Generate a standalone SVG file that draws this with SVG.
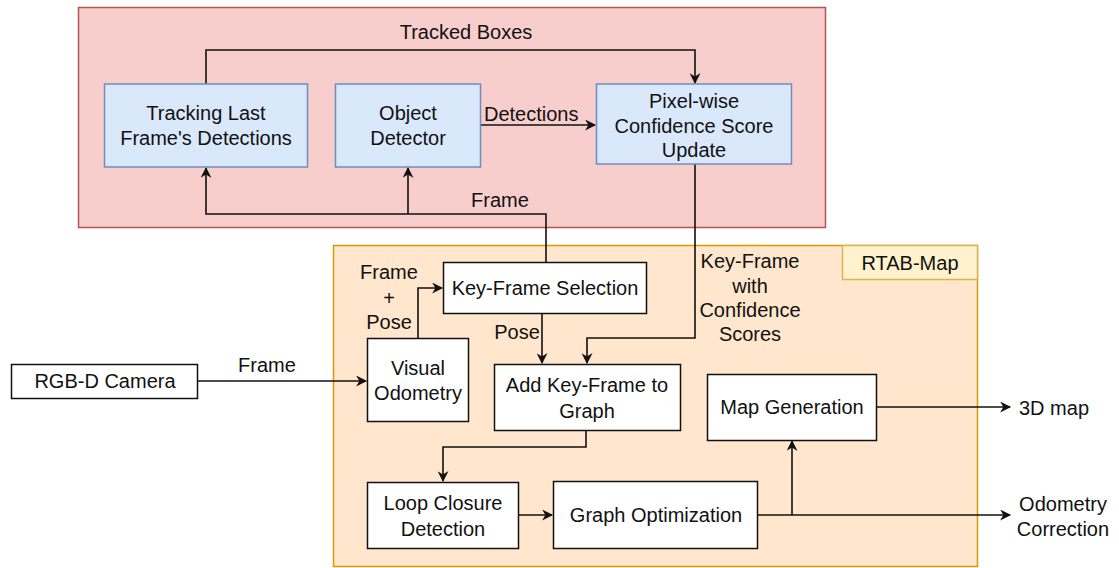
<svg xmlns="http://www.w3.org/2000/svg" width="1119" height="568" viewBox="0 0 1119 568">
  <style>
    text { font-family: "Liberation Sans", Arial, sans-serif; font-size: 20px; fill: #111; }
    .mid { text-anchor: middle; }
    .blue { fill: #dae8fc; stroke: #6c8ebf; stroke-width: 1.5; }
    .plain { fill: #ffffff; stroke: #111; stroke-width: 1.5; }
    .edge { fill: none; stroke: #111; stroke-width: 1.6; }
    .arr { marker-end: url(#head); }
  </style>
  <defs>
    <marker id="head" viewBox="0 0 10 10" refX="9" refY="5" markerWidth="12" markerHeight="11" markerUnits="userSpaceOnUse" orient="auto">
      <path d="M0,0 L10,5 L0,10 L3,5 z" fill="#111"/>
    </marker>
  </defs>

  <!-- containers -->
  <g id="detection-module">
    <rect x="78.5" y="7.5" width="747" height="220" fill="#f8cecc" stroke="#b85450" stroke-width="1.5"/>
  </g>
  <g id="rtabmap-module">
    <rect x="333.5" y="245.5" width="644" height="321" fill="#ffe6cc" stroke="#d79b00" stroke-width="1.5"/>
    <rect x="842.5" y="245.5" width="135" height="34" fill="#fff2cc" stroke="#d6b656" stroke-width="1.5"/>
    <text class="mid" x="910" y="270">RTAB-Map</text>
  </g>

  <!-- connectors -->
  <g id="connectors">
    <path class="edge arr" d="M206,84 V50 H695 V83"/>
    <path class="edge arr" d="M481,125 H595"/>
    <path class="edge arr" d="M546,262 V214 H206 V168"/>
    <path class="edge arr" d="M408,214 V168"/>
    <path class="edge arr" d="M695,164 V338 H587 V363"/>
    <path class="edge arr" d="M542,313 V363"/>
    <path class="edge arr" d="M418,338 V288 H442"/>
    <path class="edge arr" d="M198,381 H366"/>
    <path class="edge arr" d="M586,430 V447 H443 V481"/>
    <path class="edge arr" d="M518,515 H552"/>
    <path class="edge arr" d="M758,515 H1010"/>
    <path class="edge arr" d="M792,515 V441"/>
    <path class="edge arr" d="M877,407 H1010"/>
  </g>

  <!-- edge labels -->
  <g id="labels">
    <text class="mid" x="466" y="39">Tracked Boxes</text>
    <text x="484" y="121">Detections</text>
    <text class="mid" x="500" y="207">Frame</text>
    <text class="mid" x="389" y="279">Frame</text>
    <text class="mid" x="389" y="305">+</text>
    <text class="mid" x="389" y="329">Pose</text>
    <text class="mid" x="517" y="339">Pose</text>
    <text class="mid" x="750" y="268">Key-Frame</text>
    <text class="mid" x="750" y="293">with</text>
    <text class="mid" x="750" y="317">Confidence</text>
    <text class="mid" x="750" y="341">Scores</text>
    <text class="mid" x="267" y="372">Frame</text>
    <text x="1019" y="415">3D map</text>
    <text class="mid" x="1063" y="511">Odometry</text>
    <text class="mid" x="1063" y="536">Correction</text>
  </g>

  <!-- nodes -->
  <g id="tracking">
    <rect class="blue" x="104.5" y="84" width="203" height="83"/>
    <text class="mid" x="206" y="120">Tracking Last</text>
    <text class="mid" x="206" y="145">Frame's Detections</text>
  </g>
  <g id="object-detector">
    <rect class="blue" x="335.5" y="84" width="145" height="83"/>
    <text class="mid" x="408" y="120">Object</text>
    <text class="mid" x="408" y="145">Detector</text>
  </g>
  <g id="confidence-update">
    <rect class="blue" x="596.5" y="84" width="195" height="80"/>
    <text class="mid" x="694" y="108">Pixel-wise</text>
    <text class="mid" x="694" y="133">Confidence Score</text>
    <text class="mid" x="694" y="157">Update</text>
  </g>
  <g id="keyframe-selection">
    <rect class="plain" x="443.5" y="262.5" width="203" height="51"/>
    <text class="mid" x="545" y="295">Key-Frame Selection</text>
  </g>
  <g id="visual-odometry">
    <rect class="plain" x="367.5" y="338.5" width="101" height="83"/>
    <text class="mid" x="418" y="375">Visual</text>
    <text class="mid" x="418" y="400">Odometry</text>
  </g>
  <g id="add-keyframe">
    <rect class="plain" x="494.5" y="364.5" width="186" height="66"/>
    <text class="mid" x="587" y="392">Add Key-Frame to</text>
    <text class="mid" x="587" y="418">Graph</text>
  </g>
  <g id="map-generation">
    <rect class="plain" x="707.5" y="374.5" width="169" height="66"/>
    <text class="mid" x="792" y="414">Map Generation</text>
  </g>
  <g id="rgbd-camera">
    <rect class="plain" x="11.5" y="364.5" width="186" height="34"/>
    <text class="mid" x="105" y="388">RGB-D Camera</text>
  </g>
  <g id="loop-closure">
    <rect class="plain" x="367.5" y="482.5" width="151" height="66"/>
    <text class="mid" x="443" y="510">Loop Closure</text>
    <text class="mid" x="443" y="536">Detection</text>
  </g>
  <g id="graph-optimization">
    <rect class="plain" x="553.5" y="481.5" width="204" height="67"/>
    <text class="mid" x="656" y="522">Graph Optimization</text>
  </g>
</svg>
